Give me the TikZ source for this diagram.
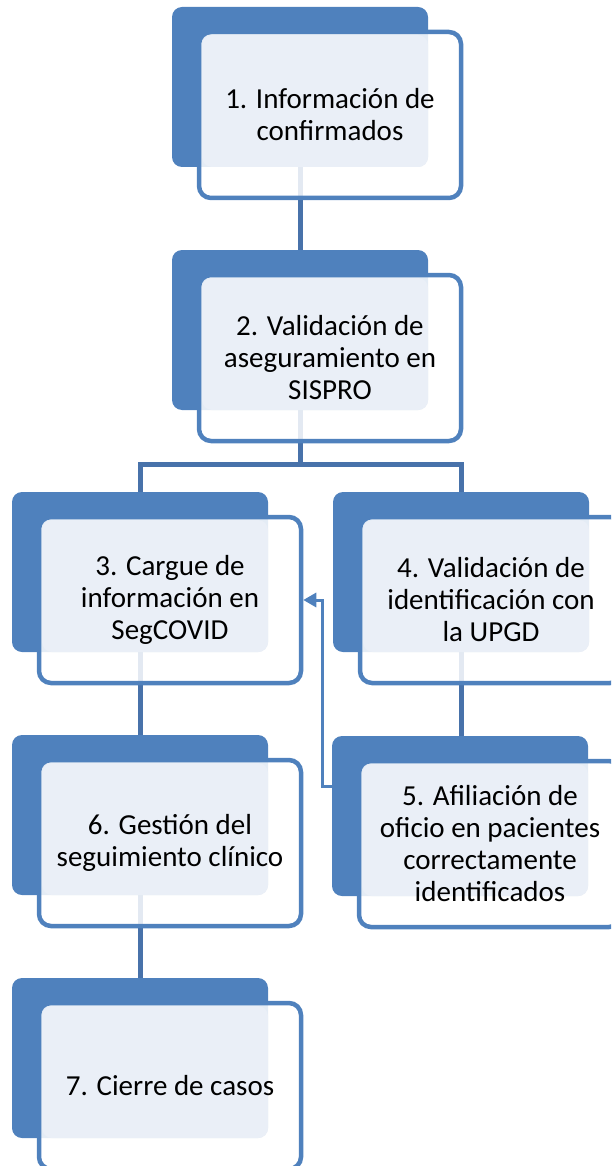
\documentclass[tikz,border=0pt]{standalone}
\usepackage{fontspec}
\setmainfont{Carlito}
\usetikzlibrary{arrows.meta}
\definecolor{accblue}{RGB}{79,129,189}
\definecolor{linkblue}{RGB}{72,114,170}
\definecolor{paleblue}{RGB}{234,239,247}
\pgfdeclarelayer{bg}
\pgfsetlayers{bg,main}
\tikzset{
 backcard/.style={rectangle, rounded corners=10pt, fill=accblue, minimum width=256pt, minimum height=160pt, inner sep=0pt, outer sep=0pt},
 framecard/.style={rectangle, rounded corners=12pt, draw=accblue, line width=4.5pt, fill=white, fill opacity=0.85, minimum width=262pt, minimum height=166pt, inner sep=0pt, outer sep=2.25pt},
 facecard/.style={rectangle, rounded corners=10pt, fill=paleblue, minimum width=226pt, minimum height=132pt, inner sep=0pt, outer sep=0pt},
 cardtext/.style={align=center, font=\fontsize{29}{32}\selectfont, inner sep=0pt, text=black},
 link/.style={draw=linkblue, line width=5pt},
 backlink/.style={draw=accblue, line width=3pt, -{Triangle[length=13pt,width=14pt]}},
}
\newcommand\flowstep[4]{%
 \node[backcard] (b#1) at ({#2+128},{#3+80}) {};
 \node[framecard] (f#1) at ({#2+158},{#3+108}) {};
 \node[facecard] (l#1) at ({#2+143},{#3+94}) {};
 \node[cardtext] (t#1) at ({#2+158},{#3+108}) {#4};
}
\begin{document}
\begin{tikzpicture}[x=1pt,y=-1pt]
\useasboundingbox (0,0) rectangle (611,1166);
\clip (0,0) rectangle (611,1166);
\flowstep{1}{172}{7}{1. Información de\\confirmados}
\flowstep{2}{172}{250}{2. Validación de\\aseguramiento en\\SISPRO}
\flowstep{3}{12}{492}{3. Cargue de\\información en\\SegCOVID}
\flowstep{4}{333}{492}{4. Validación de\\identificación con\\la UPGD}
\flowstep{5}{332}{736}{5. Afiliación de\\oficio en pacientes\\correctamente\\identificados}
\flowstep{6}{12}{735}{6. Gestión del\\seguimiento clínico}
\flowstep{7}{12}{978}{7. Cierre de casos}
\coordinate (j2) at (300,464);
\begin{pgfonlayer}{bg}
\draw[link] (b1.south) -- (b2.north);
\draw[link] (b2.south) -- (j2);
\draw[link] (b3.north) |- (j2) -| (b4.north);
\draw[link] (b3.south) -- (b6.north);
\draw[link] (b4.south) -- (b4.south |- b5.north);
\draw[link] (b6.south) -- (b7.north);
\end{pgfonlayer}
\coordinate (a5) at (332,786);
\coordinate (k5) at (322,786);
\draw[backlink] (a5) -- (k5) |- (f3.east);
\end{tikzpicture}
\end{document}
